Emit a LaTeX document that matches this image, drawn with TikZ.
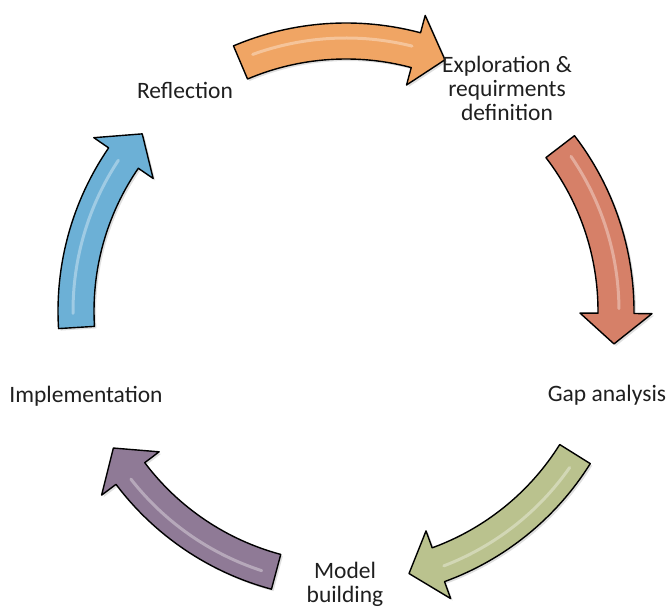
\documentclass[tikz,border=0pt]{standalone}
\usepackage{fontspec}
\setmainfont{Carlito}
\usetikzlibrary{shadows}
\definecolor{corange}{RGB}{240,165,100}
\definecolor{cred}{RGB}{214,128,104}
\definecolor{cgreen}{RGB}{186,194,142}
\definecolor{cpurple}{RGB}{143,122,150}
\definecolor{cblue}{RGB}{108,176,214}
\tikzset{
  arrowbody/.style={draw=black, line width=1.4pt, line join=round,
    drop shadow={opacity=0.25, shadow xshift=2pt, shadow yshift=-2pt}},
  gloss/.style={white, opacity=0.35, line width=3pt, line cap=round},
  lbl/.style={font=\fontsize{23.5}{24}\selectfont, align=center, text=black!88, inner sep=0pt}
}
\newcommand{\CycArrow}[2]{%
  \pgfmathsetmacro\aA{#1+22}%
  \pgfmathsetmacro\aB{#1-16}%
  \pgfmathsetmacro\aC{#1-22.5}%
  \pgfmathsetmacro\gA{#1+19}%
  \pgfmathsetmacro\gB{#1-15}%
  \draw[arrowbody, fill=#2] (\aA:288pt) arc[start angle=\aA, end angle=\aB, radius=288pt]
     -- (\aB:306pt) -- (\aC:270pt) -- (\aB:234pt) -- (\aB:252pt)
     arc[start angle=\aB, end angle=\aA, radius=252pt] -- cycle;
  \draw[gloss] (\gA:273pt) arc[start angle=\gA, end angle=\gB, radius=273pt];
}
\begin{document}
\begin{tikzpicture}
\useasboundingbox[fill=white] (0pt,0pt) rectangle (669pt,-609pt);
\begin{scope}[shift={(346pt,-311pt)}]
  \CycArrow{91}{corange}
  \CycArrow{15.5}{cred}
  \CycArrow{-54}{cgreen}
  \CycArrow{-127}{cpurple}
  \CycArrow{161.5}{cblue}
\end{scope}
\node[lbl] (refl) at (185pt,-90pt) {Reflection};
\node[lbl] (expl) at (507pt,-88pt) {Exploration \&\\requirments\\definition};
\node[lbl] (gap) at (607pt,-395pt) {Gap analysis};
\node[lbl] (model) at (345pt,-584pt) {Model\\building};
\node[lbl] (impl) at (86pt,-396pt) {Implementation};
\end{tikzpicture}
\end{document}
